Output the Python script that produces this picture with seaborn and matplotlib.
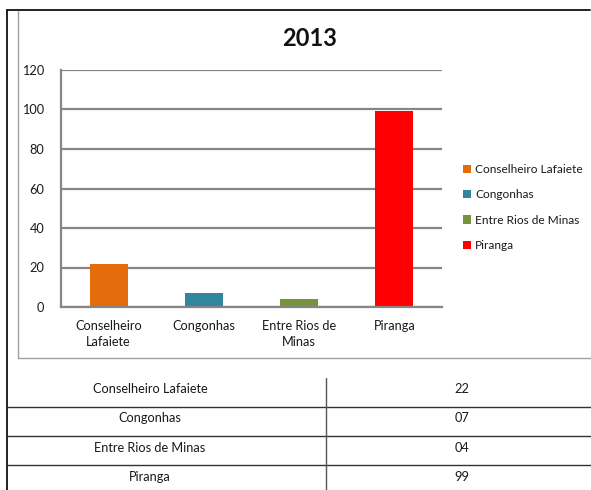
import matplotlib
matplotlib.use("Agg")
import matplotlib.pyplot as plt
from matplotlib.lines import Line2D
from matplotlib.patches import Patch
import seaborn as sns
import pandas as pd

# Data
cities = ["Conselheiro Lafaiete", "Congonhas", "Entre Rios de Minas", "Piranga"]
tick_labels = ["Conselheiro\nLafaiete", "Congonhas", "Entre Rios de\nMinas", "Piranga"]
counts = [22, 7, 4, 99]
count_labels = ["22", "07", "04", "99"]
colors = ["#E46C0A", "#31859C", "#77933C", "#FF0000"]
year = "2013"

sns.set_style("white")
plt.rcParams["font.family"] = ["Lato", "DejaVu Sans"]

W, H = 591, 490
fig = plt.figure(figsize=(W / 100, H / 100), dpi=100)


def fx(px):
    return px / W


def fy(py):
    return 1 - py / H


ax = fig.add_axes([fx(61), fy(307), fx(442) - fx(61), fy(70) - fy(307)])

df = pd.DataFrame({"city": cities, "count": counts})
sns.barplot(data=df, x="city", y="count", hue="city", palette=colors,
            dodge=False, width=0.4, legend=False, ax=ax, saturation=1,
            linewidth=0)

grid_c = "#868686"
txt_c = "#1a1a1a"
fs = 9.2
ax.set_ylim(0, 120)
ax.set_xlim(-0.5, 3.5)
ax.set_yticks(range(0, 121, 20))
ax.yaxis.grid(True, color=grid_c, linewidth=1.6)
ax.set_axisbelow(True)
for s in ["top", "right"]:
    ax.spines[s].set_visible(False)
for s in ["left", "bottom"]:
    ax.spines[s].set_color(grid_c)
    ax.spines[s].set_linewidth(1.6)
ax.set_xlabel("")
ax.set_ylabel("")
ax.set_xticks(range(4))
ax.set_xticklabels(tick_labels, fontsize=fs, color=txt_c, linespacing=1.5)
ax.tick_params(axis="x", length=0, pad=9)
ax.tick_params(axis="y", length=4, width=1.2, color=grid_c, labelsize=fs,
               labelcolor=txt_c, pad=8, direction="out")
# category boundary ticks under the x axis
ax.set_xticks([0.5, 1.5, 2.5, 3.5], minor=True)
ax.tick_params(axis="x", which="minor", length=4, width=1.2, color=grid_c,
               direction="out")

fig.text(fx(310), fy(39), year, ha="center", va="center",
         fontsize=17, fontweight="bold", color="#111111")

handles = [Patch(facecolor=c, edgecolor="none") for c in colors]
fig.legend(handles, cities, loc="upper left",
           bbox_to_anchor=(fx(457), fy(158)), frameon=False,
           fontsize=8.6, handlelength=0.7, handleheight=0.7,
           handletextpad=0.3, labelspacing=1.2, borderpad=0,
           labelcolor=txt_c)

# chart frame
fig.add_artist(Line2D([fx(7), fx(590)], [fy(10.5), fy(10.5)], color="#111111", lw=1.3))
fig.add_artist(Line2D([fx(7), fx(7)], [fy(10), fy(490)], color="#111111", lw=1.3))
fig.add_artist(Line2D([fx(18), fx(18)], [fy(11), fy(358)], color="#a0a0a0", lw=1.0))
fig.add_artist(Line2D([fx(18), fx(591)], [fy(358), fy(358)], color="#a0a0a0", lw=1.0))

# table below the chart
for yl in [407, 436, 465]:
    fig.add_artist(Line2D([fx(7), fx(591)], [fy(yl), fy(yl)], color="#333333", lw=1.0))
fig.add_artist(Line2D([fx(326), fx(326)], [fy(378), fy(490)], color="#555555", lw=1.0))
row_y = [389, 418, 448, 477]
for name, lab, yr in zip(cities, count_labels, row_y):
    fig.text(fx(150), fy(yr), name, ha="center", va="center", fontsize=fs, color=txt_c)
    fig.text(fx(462), fy(yr), lab, ha="center", va="center", fontsize=fs, color=txt_c)

fig.savefig("out.png", dpi=100)
